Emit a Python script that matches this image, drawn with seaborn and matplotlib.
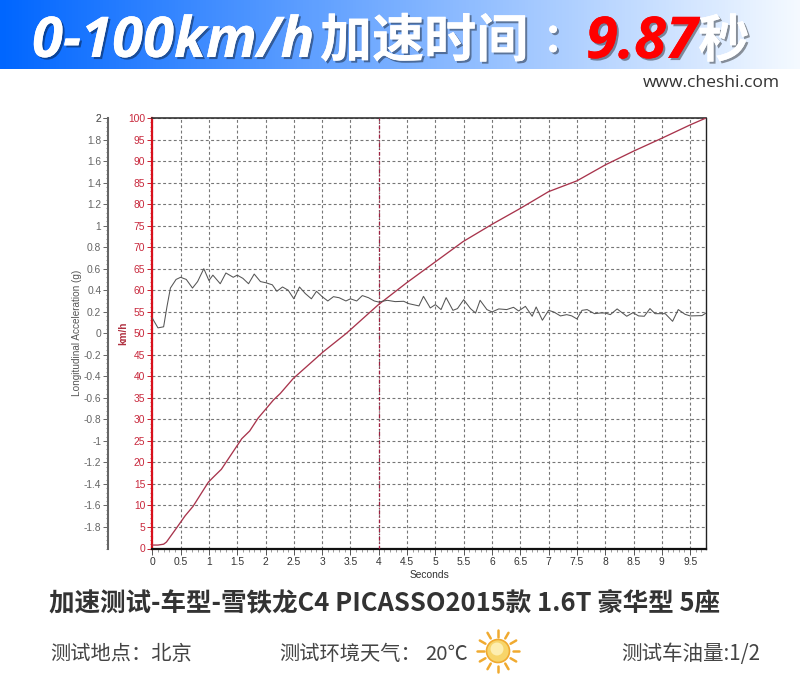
import numpy as np
import pandas as pd
import matplotlib
matplotlib.use("Agg")
import matplotlib.pyplot as plt
import matplotlib.patheffects as pe
from matplotlib.ticker import MultipleLocator, FixedLocator
import seaborn as sns

sns.set_theme(style="white")
CJK = "Noto Sans CJK SC"
plt.rcParams['font.family'] = [CJK, 'DejaVu Sans']

# ---------- data ----------
accel_t = [0, 0.1, 0.2, 0.26, 0.32, 0.42, 0.5, 0.6, 0.71, 0.8, 0.91, 1.0, 1.07, 1.2, 1.3, 1.43, 1.5, 1.6, 1.7, 1.8, 1.91, 2.0,
           2.12, 2.2, 2.3, 2.4, 2.5, 2.6, 2.7, 2.81, 2.9, 3.0, 3.1, 3.2, 3.3, 3.42, 3.5, 3.61, 3.71, 3.82, 3.92,
           4.0, 4.15, 4.29, 4.44, 4.53, 4.71, 4.79, 4.91, 5.0, 5.1, 5.19, 5.31, 5.39, 5.5, 5.62, 5.71, 5.79, 5.91,
           6.0, 6.12, 6.26, 6.38, 6.47, 6.59, 6.71, 6.78, 6.89, 7.0, 7.09, 7.21, 7.32, 7.41, 7.5, 7.59, 7.68, 7.81,
           7.91, 8.0, 8.09, 8.21, 8.38, 8.49, 8.59, 8.69, 8.79, 8.88, 9.06, 9.19, 9.29, 9.41, 9.5, 9.71, 9.78]
accel_g = [0.14, 0.05, 0.06, 0.25, 0.42, 0.5, 0.52, 0.5, 0.42, 0.48, 0.6, 0.49, 0.54, 0.46, 0.56, 0.52, 0.54, 0.51, 0.46, 0.55, 0.48, 0.47,
           0.45, 0.39, 0.43, 0.4, 0.32, 0.43, 0.37, 0.32, 0.39, 0.34, 0.3, 0.34, 0.33, 0.3, 0.32, 0.3, 0.35, 0.33, 0.3,
           0.29, 0.306, 0.294, 0.297, 0.275, 0.254, 0.343, 0.235, 0.266, 0.22, 0.331, 0.213, 0.229, 0.312, 0.229, 0.188, 0.306, 0.22,
           0.198, 0.226, 0.22, 0.241, 0.207, 0.25, 0.158, 0.244, 0.121, 0.213, 0.198, 0.161, 0.173, 0.161, 0.133, 0.213, 0.22, 0.182,
           0.188, 0.188, 0.173, 0.226, 0.158, 0.191, 0.161, 0.158, 0.229, 0.182, 0.182, 0.111, 0.22, 0.176, 0.161, 0.164, 0.188]
speed_t = [0, 0.1, 0.2, 0.25, 0.43, 0.58, 0.72, 0.99, 1.08, 1.22, 1.58, 1.72, 1.87, 2.14, 2.26, 2.49, 3.02, 3.43,
           3.99, 4.49, 4.99, 5.49, 6.0, 6.5, 7.0, 7.5, 8.0, 8.5, 9.0, 9.5, 9.78]
speed_kmh = [0.8, 0.8, 1.0, 1.5, 4.8, 7.6, 9.8, 15.4, 16.6, 18.4, 25.5, 27.3, 30.3, 34.5, 36.0, 39.5, 45.7, 50.0,
             56.6, 61.7, 66.5, 71.3, 75.3, 79.0, 82.9, 85.4, 89.1, 92.3, 95.3, 98.4, 100.0]
mark_time = 4.0
speed_ticks = list(range(0, 101, 5))
g_ticks = [round(-1.8 + 0.2 * i, 1) for i in range(20)]
second_ticks = [0.5 * i for i in range(20)]

# ---------- figure ----------
W, H = 800, 687
fig = plt.figure(figsize=(W / 100, H / 100), dpi=100, facecolor="white")

def box(l, t, r, b):
    return [l / W, 1 - b / H, (r - l) / W, (b - t) / H]

ax = fig.add_axes(box(152.3, 118, 706, 548.5))
ax.set_facecolor("white")
df_s = pd.DataFrame({"t": speed_t, "v": speed_kmh})
sns.lineplot(data=df_s, x="t", y="v", ax=ax, color="#a8344c", lw=0.95, zorder=4)
ax.set_xlim(0, 9.78)
ax.set_ylim(0, 100)

ax.xaxis.set_major_locator(FixedLocator(second_ticks))
ax.xaxis.set_minor_locator(MultipleLocator(0.1))
ax.yaxis.set_major_locator(FixedLocator(speed_ticks))
ax.yaxis.set_minor_locator(MultipleLocator(1))
ax.set_xticklabels([f"{v:g}" for v in second_ticks])
ax.set_yticklabels([str(v) for v in speed_ticks])
ax.grid(True, which="major", color="#767676", ls=(0, (2.6, 2.2)), lw=0.8)
ax.set_axisbelow(True)
ax.tick_params(axis="x", which="major", length=4, width=0.7, color="#555555", labelsize=7.4, labelcolor="#333333", pad=2, bottom=True)
ax.tick_params(axis="x", which="minor", length=2, width=0.5, color="#777777", bottom=True)
ax.tick_params(axis="y", which="major", length=3.5, width=0.7, color="#c8202f", labelsize=7.4, labelcolor="#c8283c", pad=1.5, left=True)
ax.tick_params(axis="y", which="minor", length=1.5, width=0.5, color="#c8202f", left=True)
for lab in ax.get_xticklabels() + ax.get_yticklabels():
    lab.set_family("Liberation Sans")
ax.set_xlabel("Seconds", fontsize=7.4, family="Liberation Sans", color="#333333", labelpad=2)
ax.set_ylabel("km/h", fontsize=7.2, family="Liberation Sans", color="#b03040", labelpad=2, fontweight="bold")
ax.yaxis.set_label_coords(-0.044, 0.5)
ax.spines["top"].set(color="#333333", lw=1.2)
ax.spines["bottom"].set(color="#111111", lw=1.6)
ax.spines["left"].set(color="#d8101c", lw=1.6)
ax.spines["right"].set(color="#222222", lw=1.0)
ax.axvline(mark_time, color="#a02040", lw=0.9, ls=(0, (3, 1.5, 1, 1.5)), zorder=3)

# acceleration axis, moved to the left of the speed axis
ax2 = ax.twinx()
ax2.set_ylim(-2, 2)
df_a = pd.DataFrame({"t": accel_t, "g": accel_g})
sns.lineplot(data=df_a, x="t", y="g", ax=ax2, color="#555555", lw=0.75, zorder=5)
ax2.set_xlim(0, 9.78)
ax2.set_xlabel("")
for s in ["top", "bottom", "right"]:
    ax2.spines[s].set_visible(False)
ax2.spines["left"].set_visible(True)
ax2.spines["left"].set_position(("outward", 44 * 0.72))
ax2.spines["left"].set(color="#666666", lw=1.5)
ax2.yaxis.set_label_position("left")
ax2.yaxis.tick_left()
ax2.yaxis.set_major_locator(FixedLocator(g_ticks + [2]))
ax2.yaxis.set_minor_locator(MultipleLocator(0.04))
ax2.set_yticklabels([f"{v:g}" for v in g_ticks + [2]])
ax2.grid(False)
ax2.tick_params(axis="y", which="major", length=3.5, width=0.7, color="#666666", labelsize=7.4, labelcolor="#666666", pad=1.5, left=True, right=False)
ax2.tick_params(axis="y", which="minor", length=1.5, width=0.5, color="#666666", left=True, right=False)
for lab in ax2.get_yticklabels():
    lab.set_family("Liberation Sans")
ax2.set_ylabel("Longitudinal Acceleration (g)", fontsize=7.2, family="Liberation Sans", color="#555555", labelpad=0)
ax2.yaxis.set_label_coords(-0.127, 0.5)

# overlay in pixel coordinates for banner and captions
ov = fig.add_axes([0, 0, 1, 1], zorder=10)
ov.axis("off")
ov.patch.set_alpha(0)
grad = np.linspace(0, 1, 256)[None, :, None]
c0 = np.array([0, 0.40, 1.0])[None, None, :]
c1 = np.array([0.96, 0.98, 1.0])[None, None, :]
ov.imshow(c0 + (c1 - c0) * grad, extent=[0, W, 69, 0], aspect="auto", zorder=1)
ov.set_xlim(0, W)
ov.set_ylim(H, 0)

shadow = [pe.withSimplePatchShadow(offset=(1.5, -1.5), shadow_rgbFace="#000000", alpha=0.4), pe.Normal()]
def head(x, s, color="white", fam=CJK, style="normal", size=37):
    ov.text(x, 36, s, color=color, fontsize=size, family=fam, fontweight="bold", style=style,
            ha="left", va="center_baseline", path_effects=shadow, zorder=3)

head(32, "0-100km/h", fam="Open Sans", style="italic", size=40.5)
head(320, "加速时间", size=37.5)
head(543, "：", size=29)
head(586, "9.87", color="#ff0000", fam="Open Sans", style="italic", size=41.5)
head(698, "秒", size=37)

ov.text(780, 83, "www.cheshi.com", fontsize=12.6, family="Open Sans", color="#333333", ha="right", va="center")
ov.text(49, 603, "加速测试-车型-雪铁龙C4 PICASSO2015款 1.6T 豪华型 5座", fontsize=18.4, fontweight="bold",
        color="#333333", ha="left", va="center", family=[CJK, "DejaVu Sans"])
cap = dict(fontsize=14.6, color="#444444", va="center", ha="left")
ov.text(50, 654, "测试地点：北京", **cap)
ov.text(279, 654, "测试环境天气：", **cap)
ov.text(425, 654, "20℃", **cap)
ov.text(621, 654, "测试车油量:1/2", fontsize=14.8, color="#444444", va="center", ha="left")

# sun icon
cx, cy = 498, 651
angles = np.arange(0, 360, 30)
for a in np.deg2rad(angles):
    ov.plot([cx + 14.5 * np.cos(a), cx + 21 * np.cos(a)], [cy + 14.5 * np.sin(a), cy + 21 * np.sin(a)],
            color="#f0aa30", lw=1.8, solid_capstyle="round", zorder=3)
ov.add_patch(plt.Circle((cx, cy), 11.5, fc="#f7d56a", ec="#f0aa30", lw=1.2, zorder=3))
ov.add_patch(plt.Circle((cx - 1, cy - 2), 6.5, fc="#fdeeb0", ec="none", zorder=4))

fig.savefig("out.png", dpi=100)
